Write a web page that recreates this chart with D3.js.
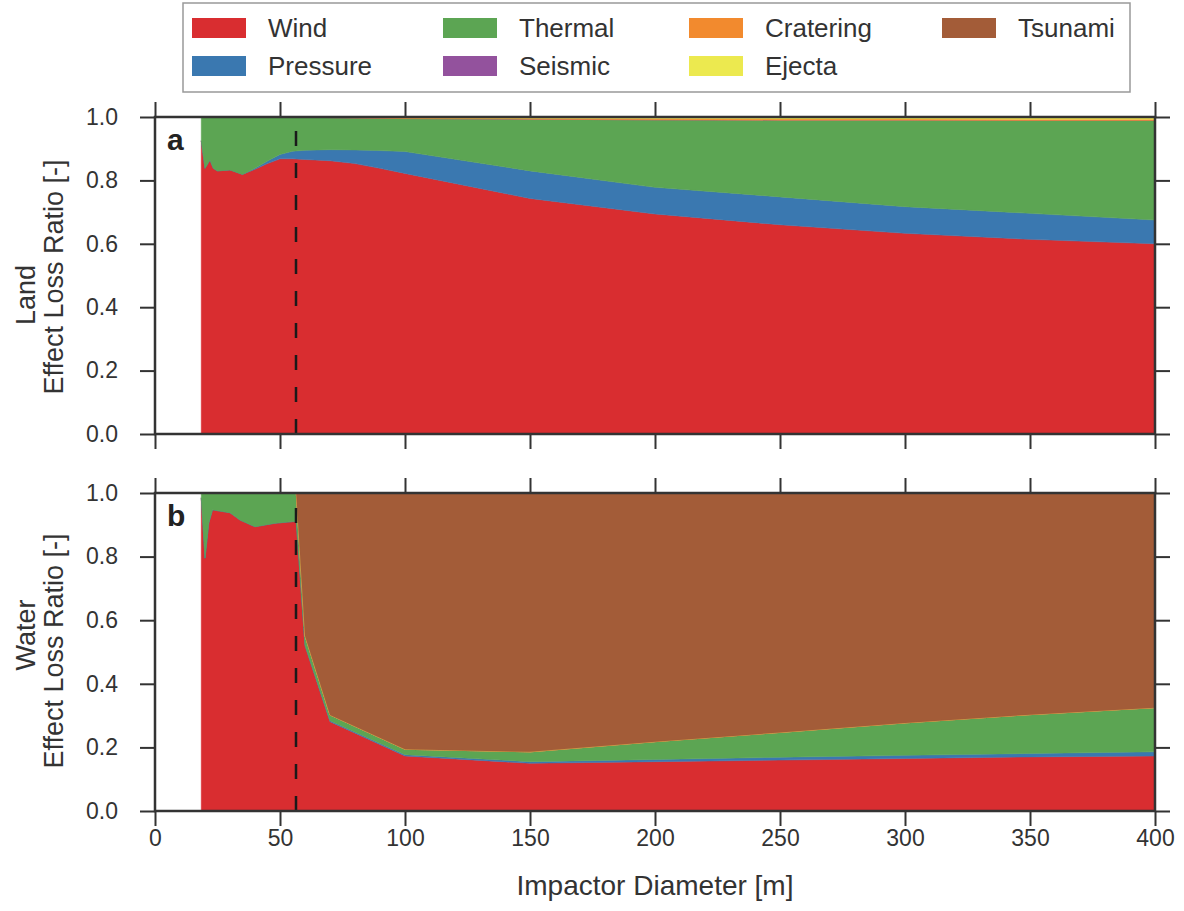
<!DOCTYPE html>
<html>
<head>
<meta charset="utf-8">
<script src="https://cdn.jsdelivr.net/npm/d3@7/dist/d3.min.js"></script>
<style>
  body { margin: 0; background: #fff; }
  svg { font-family: "Liberation Sans", Arial, sans-serif; }
</style>
</head>
<body>
<svg id="chart" width="1184" height="911"></svg>
<script>
// ---- data ----
const keys = ['wind', 'pressure', 'thermal', 'seismic', 'cratering', 'ejecta', 'tsunami'];
const labels = ['Wind', 'Pressure', 'Thermal', 'Seismic', 'Cratering', 'Ejecta', 'Tsunami'];
const colors = ['#d92d30', '#3a78b0', '#5ca553', '#93529d', '#f28a2e', '#ece94f', '#a35c38'];

// panel a: land impacts
const landSize      = [18.5, 20, 22, 23.3, 25, 30, 35, 40, 45, 50, 55, 60, 70, 80, 90, 100, 150, 200, 250, 300, 350, 400];
const landWind      = [0.925, 0.838, 0.864, 0.838, 0.830, 0.833, 0.819, 0.835, 0.853, 0.868, 0.868, 0.866, 0.862, 0.853, 0.838, 0.822, 0.743, 0.694, 0.660, 0.633, 0.614, 0.600];
const landPressure  = [0, 0, 0, 0, 0, 0, 0, 0.003, 0.008, 0.014, 0.024, 0.029, 0.035, 0.043, 0.056, 0.069, 0.087, 0.084, 0.088, 0.084, 0.082, 0.075];
const landThermal   = [0.075, 0.162, 0.136, 0.162, 0.170, 0.167, 0.181, 0.162, 0.139, 0.118, 0.108, 0.105, 0.101, 0.101, 0.102, 0.104, 0.163, 0.213, 0.242, 0.273, 0.293, 0.314];
const landCratering = [0, 0, 0, 0, 0, 0, 0, 0, 0, 0, 0, 0, 0.001, 0.001, 0.002, 0.002, 0.003, 0.004, 0.004, 0.004, 0.004, 0.004];
const landEjecta    = [0, 0, 0, 0, 0, 0, 0, 0, 0, 0, 0, 0, 0.001, 0.002, 0.002, 0.003, 0.004, 0.005, 0.006, 0.006, 0.007, 0.007];

// panel b: water impacts
const waterSize     = [18.5, 20, 21.5, 23, 30, 34, 40, 48, 55, 56.5, 60, 70, 100, 150, 200, 250, 300, 350, 400];
const waterWind     = [0.985, 0.795, 0.905, 0.947, 0.938, 0.915, 0.894, 0.905, 0.910, 0.910, 0.520, 0.281, 0.173, 0.150, 0.155, 0.160, 0.165, 0.170, 0.173];
const waterPressure = [0, 0, 0, 0, 0, 0, 0, 0, 0, 0, 0.001, 0.003, 0.004, 0.005, 0.007, 0.009, 0.010, 0.011, 0.013];
const waterThermal  = [0.015, 0.205, 0.095, 0.053, 0.062, 0.085, 0.106, 0.095, 0.090, 0.090, 0.030, 0.018, 0.017, 0.031, 0.056, 0.078, 0.102, 0.122, 0.139];
const waterTsunami  = [0, 0, 0, 0, 0, 0, 0, 0, 0, 0, 0.449, 0.698, 0.806, 0.814, 0.782, 0.753, 0.723, 0.697, 0.675];

const xTicks = [0, 50, 100, 150, 200, 250, 300, 350, 400];
const yTicks = [0.0, 0.2, 0.4, 0.6, 0.8, 1.0];
const thresholdSize = 56.4; // dashed line

// ---- layout ----
const svg = d3.select('#chart');
const left = 155, right = 1155;
const ink = '#333';

const x = d3.scaleLinear().domain([0, 400]).range([left, right]);

const panels = [
  {top: 117, bottom: 434, letter: 'a', label: ['Land', 'Effect Loss Ratio [-]'], labelY: [295, 277],
   series: {size: landSize, wind: landWind, pressure: landPressure, thermal: landThermal,
            cratering: landCratering, ejecta: landEjecta}},
  {top: 493, bottom: 811, letter: 'b', label: ['Water', 'Effect Loss Ratio [-]'], labelY: [635, 651],
   series: {size: waterSize, wind: waterWind, pressure: waterPressure, thermal: waterThermal,
            tsunami: waterTsunami}}
];

panels.forEach((p, pi) => {
  const y = d3.scaleLinear().domain([0, 1]).range([p.bottom, p.top]);
  const g = svg.append('g');

  // build rows for d3.stack
  const rows = p.series.size.map((s, i) => {
    const r = {size: s};
    keys.forEach(k => { r[k] = p.series[k] ? p.series[k][i] : 0; });
    return r;
  });

  const stacked = d3.stack().keys(keys)(rows);
  const area = d3.area()
    .x(d => x(d.data.size))
    .y0(d => y(d[0]))
    .y1(d => y(d[1]));

  g.append('g').selectAll('path')
    .data(stacked)
    .join('path')
    .attr('fill', (d, i) => colors[i])
    .attr('stroke', (d, i) => colors[i])
    .attr('stroke-width', 0.5)
    .attr('d', area);

  // dashed threshold line, drawn from bottom up
  g.append('line')
    .attr('x1', x(thresholdSize)).attr('x2', x(thresholdSize))
    .attr('y1', y(0)).attr('y2', y(1))
    .attr('stroke', '#1a1a1a')
    .attr('stroke-width', 2.5)
    .attr('stroke-dasharray', '15,17');

  // axes (ticks out on all sides)
  const styleAxis = a => {
    a.select('.domain').remove();
    a.selectAll('.tick line').attr('stroke', ink).attr('stroke-width', 2);
    a.selectAll('.tick text').attr('fill', ink).style('font-size', '23px');
  };

  g.append('g').attr('transform', `translate(${left},0)`)
    .call(d3.axisLeft(y).tickValues(yTicks).tickSize(15).tickPadding(22).tickFormat(d3.format('.1f')))
    .call(styleAxis);
  g.append('g').attr('transform', `translate(${right},0)`)
    .call(d3.axisRight(y).tickValues(yTicks).tickSize(15).tickFormat(''))
    .call(styleAxis);
  g.append('g').attr('transform', `translate(0,${p.top})`)
    .call(d3.axisTop(x).tickValues(xTicks).tickSize(15).tickFormat(''))
    .call(styleAxis);
  g.append('g').attr('transform', `translate(0,${p.bottom})`)
    .call(d3.axisBottom(x).tickValues(xTicks).tickSize(15).tickPadding(4)
      .tickFormat(pi === 1 ? d3.format('d') : ''))
    .call(styleAxis);

  // frame
  g.append('rect')
    .attr('x', left).attr('y', p.top)
    .attr('width', right - left).attr('height', p.bottom - p.top)
    .attr('fill', 'none').attr('stroke', ink).attr('stroke-width', 2.5);

  // panel letter
  g.append('text')
    .attr('x', 167).attr('y', p.top + 33)
    .attr('fill', '#222')
    .style('font-size', '30px').style('font-weight', 'bold')
    .text(p.letter);

  // y label, two lines
  [35, 63].forEach((lx, li) => {
    g.append('text')
      .attr('transform', `translate(${lx},${p.labelY[li]}) rotate(-90)`)
      .attr('text-anchor', 'middle')
      .attr('fill', ink)
      .style('font-size', '27px')
      .text(p.label[li]);
  });
});

// x label
svg.append('text')
  .attr('x', 655).attr('y', 895)
  .attr('text-anchor', 'middle')
  .attr('fill', ink)
  .style('font-size', '28px')
  .text('Impactor Diameter [m]');

// ---- legend ----
const legend = svg.append('g');
legend.append('rect')
  .attr('x', 183).attr('y', 3).attr('width', 947).attr('height', 89)
  .attr('fill', '#fff').attr('stroke', '#999').attr('stroke-width', 1.5);

const colX = [192, 443, 689, 942];
const rowY = [28, 66];
keys.forEach((k, i) => {
  const col = Math.floor(i / 2), row = i % 2;
  const item = legend.append('g').attr('transform', `translate(${colX[col]},${rowY[row]})`);
  item.append('rect')
    .attr('x', 0).attr('y', -10).attr('width', 54).attr('height', 20)
    .attr('fill', colors[i]);
  item.append('text')
    .attr('x', 76).attr('y', 9)
    .attr('fill', ink)
    .style('font-size', '26px')
    .text(labels[i]);
});
</script>
</body>
</html>
